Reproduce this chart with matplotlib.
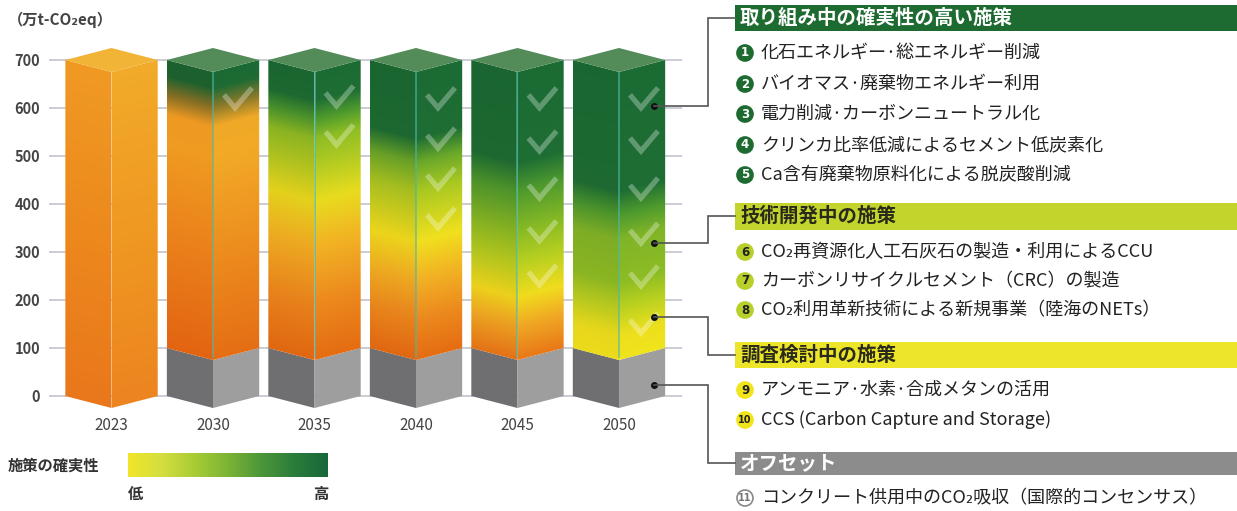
import numpy as np
import matplotlib
matplotlib.use('Agg')
import matplotlib.pyplot as plt
from matplotlib.patches import Polygon, Rectangle, Circle
from matplotlib.colors import to_rgb

plt.rcParams['font.family'] = ['Noto Sans CJK JP', 'DejaVu Sans']

years = ['2023', '2030', '2035', '2040', '2045', '2050']
totals = [700, 700, 700, 700, 700, 700]
offsets = [0, 100, 100, 100, 100, 100]   # grey part (offset)

# colour along each bar: (value, colour), bottom -> top
grad_2023 = [(0, '#ec8420'), (350, '#ef9822'), (700, '#f2ab2a')]
grad_2030 = [(100, '#e56e14'), (300, '#ec8a1e'), (520, '#f2aa26'), (585, '#f0a828'),
             (625, '#8a7a2a'), (665, '#1e6a34'), (700, '#1b6b34')]
grad_2035 = [(100, '#e56c12'), (220, '#ec8a1e'), (340, '#f2b424'), (430, '#e8dc1e'),
             (500, '#b4cc22'), (560, '#8dbd24'), (600, '#4e9a2e'), (640, '#1e6e34'), (700, '#1b6b34')]
grad_2040 = [(100, '#e56c12'), (185, '#ec8a1e'), (270, '#f2b424'), (345, '#f0e01e'),
             (450, '#a8c822'), (510, '#6aa82a'), (560, '#1e6e34'), (700, '#1b6b34')]
grad_2045 = [(100, '#e87818'), (170, '#f0a824'), (230, '#f0dc1e'), (300, '#b8d020'),
             (360, '#8dbd24'), (450, '#4e9a2e'), (510, '#1e6e34'), (700, '#1b6b34')]
grad_2050 = [(100, '#f0e41c'), (150, '#ece01e'), (210, '#b8d020'), (260, '#8dbd24'),
             (350, '#80b428'), (400, '#4e9a2e'), (450, '#1e6e34'), (700, '#1b6b34')]
gradients = [grad_2023, grad_2030, grad_2035, grad_2040, grad_2045, grad_2050]
top_colors = ['#f2b436', '#538c58', '#538c58', '#538c58', '#538c58', '#538c58']

# check marks on each bar (value levels)
checks = [[], [617], [621, 540], [617, 533, 450, 367],
          [617, 527, 429, 340, 248], [617, 527, 429, 335, 246, 148]]

# where each group of measures points on the 2050 bar
link_levels = [604, 319, 165, 23]

group_titles = ['取り組み中の確実性の高い施策', '技術開発中の施策', '調査検討中の施策', 'オフセット']
items_1 = ['化石エネルギー·総エネルギー削減', 'バイオマス·廃棄物エネルギー利用',
           '電力削減·カーボンニュートラル化', 'クリンカ比率低減によるセメント低炭素化',
           'Ca含有廃棄物原料化による脱炭酸削減']
items_2 = ['CO₂再資源化人工石灰石の製造・利用によるCCU', 'カーボンリサイクルセメント（CRC）の製造',
           'CO₂利用革新技術による新規事業（陸海のNETs）']
items_3 = ['アンモニア·水素·合成メタンの活用', 'CCS (Carbon Capture and Storage)']
items_4 = ['コンクリート供用中のCO₂吸収（国際的コンセンサス）']

legend_stops = ['#f0e628', '#d4de40', '#a8cc34', '#7cb434', '#4c963a', '#2a7c3a', '#17683a']

W, H = 1237, 511
HALF = 0.455      # half bar width (category units)
DEPTH = 25        # perspective drop of the front edge (value units)
PXX = 101.5       # px per category
PXY = 0.48        # px per value unit
left_shades = [(0.99, 0.9, 0.85), (0.99, 0.91, 0.87), (0.98, 0.95, 0.93),
               (0.98, 0.95, 0.93), (0.98, 0.95, 0.93), (0.98, 0.96, 0.95)]


def colors_at(stops, v):
    vs = [s[0] for s in stops]
    cs = np.array([to_rgb(s[1]) for s in stops])
    return np.stack([np.interp(v, vs, cs[:, k]) for k in range(3)], axis=-1)


def draw_face(ax, i, y0, y1, stops, side, shade):
    if side == 'L':
        xs = np.linspace(i - HALF, i, 40)
        t = (xs - (i - HALF)) / HALF
        pts = [(i - HALF, y0), (i, y0 - DEPTH), (i, y1 - DEPTH), (i - HALF, y1)]
    else:
        xs = np.linspace(i, i + HALF, 40)
        t = (i + HALF - xs) / HALF
        pts = [(i, y0 - DEPTH), (i + HALF, y0), (i + HALF, y1), (i, y1 - DEPTH)]
    ys = np.linspace(y0 - DEPTH, y1, 400)
    vals = ys[:, None] + DEPTH * t[None, :]
    img = np.clip(colors_at(stops, vals) * np.array(shade), 0, 1)
    im = ax.imshow(img, extent=(xs[0], xs[-1], y0 - DEPTH, y1), origin='lower',
                   aspect='auto', interpolation='bilinear', zorder=2)
    clip = Polygon(pts, closed=True, transform=ax.transData)
    im.set_clip_path(clip)


fig = plt.figure(figsize=(W / 100, H / 100), dpi=100)
ax = fig.add_axes([48.6 / W, (H - 410.4) / H, 633.3 / W, 369.6 / H])

for i, yr in enumerate(years):
    off = offsets[i]
    top = totals[i]
    # grey offset block
    if off > 0:
        ax.add_patch(Polygon([(i - HALF, 0), (i, -DEPTH), (i, off - DEPTH), (i - HALF, off)],
                             closed=True, fc='#6f6f72', ec='none', zorder=2))
        ax.add_patch(Polygon([(i, -DEPTH), (i + HALF, 0), (i + HALF, off), (i, off - DEPTH)],
                             closed=True, fc='#9e9e9e', ec='none', zorder=2))
    draw_face(ax, i, off, top, gradients[i], 'L', left_shades[i])
    draw_face(ax, i, off, top, gradients[i], 'R', (1.0, 1.0, 1.0))
    # top face
    ax.add_patch(Polygon([(i - HALF, top), (i, top - DEPTH), (i + HALF, top), (i, top + DEPTH)],
                         closed=True, fc=top_colors[i], ec='none', zorder=3))
    # front edge
    if i > 0:
        ax.plot([i, i], [off - DEPTH + 6, top - DEPTH], color='#4cb8ac', lw=1.1,
                alpha=0.75, zorder=3.5)
    # check marks
    for lv in checks[i]:
        cx = i + 22 / PXX
        xs = [cx - 11 / PXX, cx, cx + 17 / PXX]
        ys = [lv + 5 / PXY, lv - 8 / PXY, lv + 12 / PXY]
        ax.plot(xs, ys, color='white', alpha=0.3, lw=3.8, solid_joinstyle='miter',
                solid_capstyle='butt', zorder=4)

# connector dots on the 2050 bar
dot_x = 5 + 35 / PXX
ax.plot([dot_x] * len(link_levels), link_levels, 'o', ms=4, color='#111111', zorder=5)

ax.set_xlim(-0.62, 5.62)
ax.set_ylim(-30, 740)
ax.set_yticks(range(0, 701, 100))
ax.set_xticks(range(len(years)))
ax.set_xticklabels(years)
ax.tick_params(axis='y', length=0, pad=6.2, labelsize=10.5, labelcolor='#444444')
ax.tick_params(axis='x', length=0, pad=5, labelsize=11, labelcolor='#444444')
for lab in ax.get_yticklabels():
    lab.set_fontweight('bold')
ax.grid(axis='y', color='#c8c8d2', lw=1.3)
ax.grid(axis='x', visible=False)
ax.set_axisbelow(True)
for s in ax.spines.values():
    s.set_visible(False)
ax.patch.set_alpha(0)

# overlay in pixel coordinates for the side panel
ov = fig.add_axes([0, 0, 1, 1], zorder=5)
ov.set_xlim(0, W)
ov.set_ylim(H, 0)
ov.axis('off')

ov.text(8, 20, '（万t-CO₂eq）', fontsize=11, fontweight='bold', color='#444444',
        va='center', ha='left')

# legend bar
lg = colors_at([(k / (len(legend_stops) - 1), c) for k, c in enumerate(legend_stops)],
               np.linspace(0, 1, 200))[None, :, :]
ov.imshow(lg, extent=(128, 328, 477, 453), aspect='auto', interpolation='bilinear')
ov.set_xlim(0, W)
ov.set_ylim(H, 0)
ov.text(8, 466, '施策の確実性', fontsize=11, fontweight='bold', color='#333333',
        va='center', ha='left')
ov.text(128, 494, '低', fontsize=11, fontweight='bold', color='#333333', va='center', ha='left')
ov.text(328, 494, '高', fontsize=11, fontweight='bold', color='#333333', va='center', ha='right')

# group headers
head_y = [(5, 31), (203, 230), (342, 368), (452, 475)]
head_fc = ['#1e6b32', '#c3d52c', '#ede52a', '#8c8c8c']
head_tc = ['white', '#2a2a1a', '#2a2a1a', 'white']
for k, title in enumerate(group_titles):
    y0, y1 = head_y[k]
    ov.add_patch(Rectangle((735, y0), W - 735, y1 - y0, fc=head_fc[k], ec='none'))
    ov.text(740, (y0 + y1) / 2, title, fontsize=14, fontweight='bold', color=head_tc[k],
            va='center', ha='left')

# connector lines
for k, lv in enumerate(link_levels):
    dx, dy = ax.transData.transform((dot_x, lv))
    py = H - dy
    hy = sum(head_y[k]) / 2
    ov.plot([dx, 708, 708, 735], [py, py, hy, hy], color='#555555', lw=1.2,
            solid_joinstyle='miter')

# numbered items
item_groups = [items_1, items_2, items_3, items_4]
item_rows = [[53, 84, 114, 145, 175], [252, 281, 310], [390, 420], [498]]
circ_fc = ['#1e6b32', '#b9cf2a', '#f0e41c', 'white']
circ_ec = ['#1e6b32', '#b9cf2a', '#f0e41c', '#888888']
circ_tc = ['white', '#222222', '#222222', '#777777']
n = 0
for g, items in enumerate(item_groups):
    for r, txt in enumerate(items):
        n += 1
        y = item_rows[g][r]
        ov.add_patch(Circle((745, y), 8, fc=circ_fc[g], ec=circ_ec[g], lw=1.2))
        ov.text(745, y, str(n), fontsize=8.5 if n < 10 else 7, fontweight='bold',
                color=circ_tc[g], va='center', ha='center', family='DejaVu Sans')
        ov.text(761, y, txt, fontsize=13, color='#222222', va='center', ha='left')

fig.savefig('out.png', dpi=100)
